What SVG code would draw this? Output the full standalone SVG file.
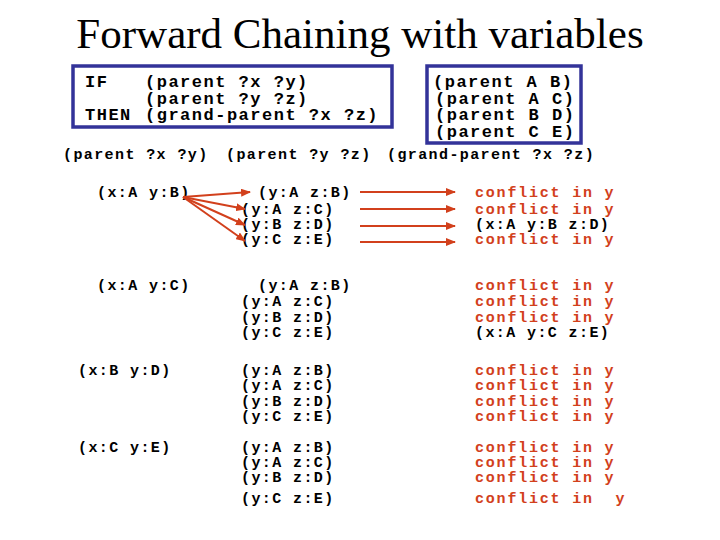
<svg xmlns="http://www.w3.org/2000/svg" width="720" height="540" viewBox="0 0 720 540">
<style>
text{font-family:"Liberation Mono","Courier New",monospace;font-weight:bold;font-size:15px;letter-spacing:1.4px;fill:#000}
.big{font-size:17px;letter-spacing:1.5px}
.r{fill:#d2401c;letter-spacing:1.8px}
.t{font-family:"Liberation Serif","Times New Roman",serif;font-weight:normal;font-size:43px;letter-spacing:0}
.box{fill:none;stroke:#333399;stroke-width:3.5}
.a{stroke:#d2401c;stroke-width:2;fill:none;marker-end:url(#ah)}
</style>
<defs><marker id="ah" markerWidth="10" markerHeight="8" refX="9" refY="4" orient="auto" markerUnits="userSpaceOnUse"><path d="M0,0L10,4L0,8z" fill="#d2401c"/></marker></defs>
<rect width="720" height="540" fill="#fff"/>
<text class="t" x="360" y="48" text-anchor="middle">Forward Chaining with variables</text>
<g id="rule" class="big"><rect class="box" x="73" y="66" width="319" height="61"/>
<text class="big" x="85" y="87">IF</text><text class="big" x="145" y="87">(parent ?x ?y)</text>
<text class="big" x="145" y="104">(parent ?y ?z)</text>
<text class="big" x="85" y="120">THEN</text><text class="big" x="145" y="120">(grand-parent ?x ?z)</text></g>
<g id="facts"><rect class="box" x="427" y="66" width="154" height="77"/>
<text class="big" x="433" y="87">(parent A B)</text><text class="big" x="435" y="104">(parent A C)</text>
<text class="big" x="435" y="120">(parent B D)</text><text class="big" x="435" y="137">(parent C E)</text></g>
<g id="header"><text x="63" y="159">(parent ?x ?y)</text><text x="226" y="159">(parent ?y ?z)</text><text x="387" y="159">(grand-parent ?x ?z)</text></g>
<g id="g1"><text x="97" y="197">(x:A y:B)</text>
<text x="258" y="197">(y:A z:B)</text><text x="241" y="214">(y:A z:C)</text><text x="241" y="229">(y:B z:D)</text><text x="241" y="244">(y:C z:E)</text>
<text class="r" x="475" y="197">conflict in y</text><text class="r" x="475" y="214">conflict in y</text><text x="475" y="229">(x:A y:B z:D)</text><text class="r" x="475" y="244">conflict in y</text></g>
<g id="g2"><text x="97" y="290">(x:A y:C)</text>
<text x="258" y="290">(y:A z:B)</text><text x="241" y="306">(y:A z:C)</text><text x="241" y="322">(y:B z:D)</text><text x="241" y="337">(y:C z:E)</text>
<text class="r" x="475" y="290">conflict in y</text><text class="r" x="475" y="306">conflict in y</text><text class="r" x="475" y="322">conflict in y</text><text x="475" y="337">(x:A y:C z:E)</text></g>
<g id="g3"><text x="78" y="375">(x:B y:D)</text>
<text x="241" y="375">(y:A z:B)</text><text x="241" y="390">(y:A z:C)</text><text x="241" y="406">(y:B z:D)</text><text x="241" y="421">(y:C z:E)</text>
<text class="r" x="475" y="375">conflict in y</text><text class="r" x="475" y="390">conflict in y</text><text class="r" x="475" y="406">conflict in y</text><text class="r" x="475" y="421">conflict in y</text></g>
<g id="g4"><text x="78" y="452">(x:C y:E)</text>
<text x="241" y="452">(y:A z:B)</text><text x="241" y="467">(y:A z:C)</text><text x="241" y="482">(y:B z:D)</text><text x="241" y="503">(y:C z:E)</text>
<text class="r" x="475" y="452">conflict in y</text><text class="r" x="475" y="467">conflict in y</text><text class="r" x="475" y="482">conflict in y</text><text class="r" x="475" y="503" xml:space="preserve">conflict in  y</text></g>
<g id="connectors">
<path class="a" d="M183,197L250,192"/><path class="a" d="M183,197L245,209"/><path class="a" d="M183,197L245,225"/><path class="a" d="M183,197L245,241"/>
<path class="a" d="M360,192H455"/><path class="a" d="M360,209H455"/><path class="a" d="M360,226H455"/><path class="a" d="M360,242H455"/>
</g>
</svg>
